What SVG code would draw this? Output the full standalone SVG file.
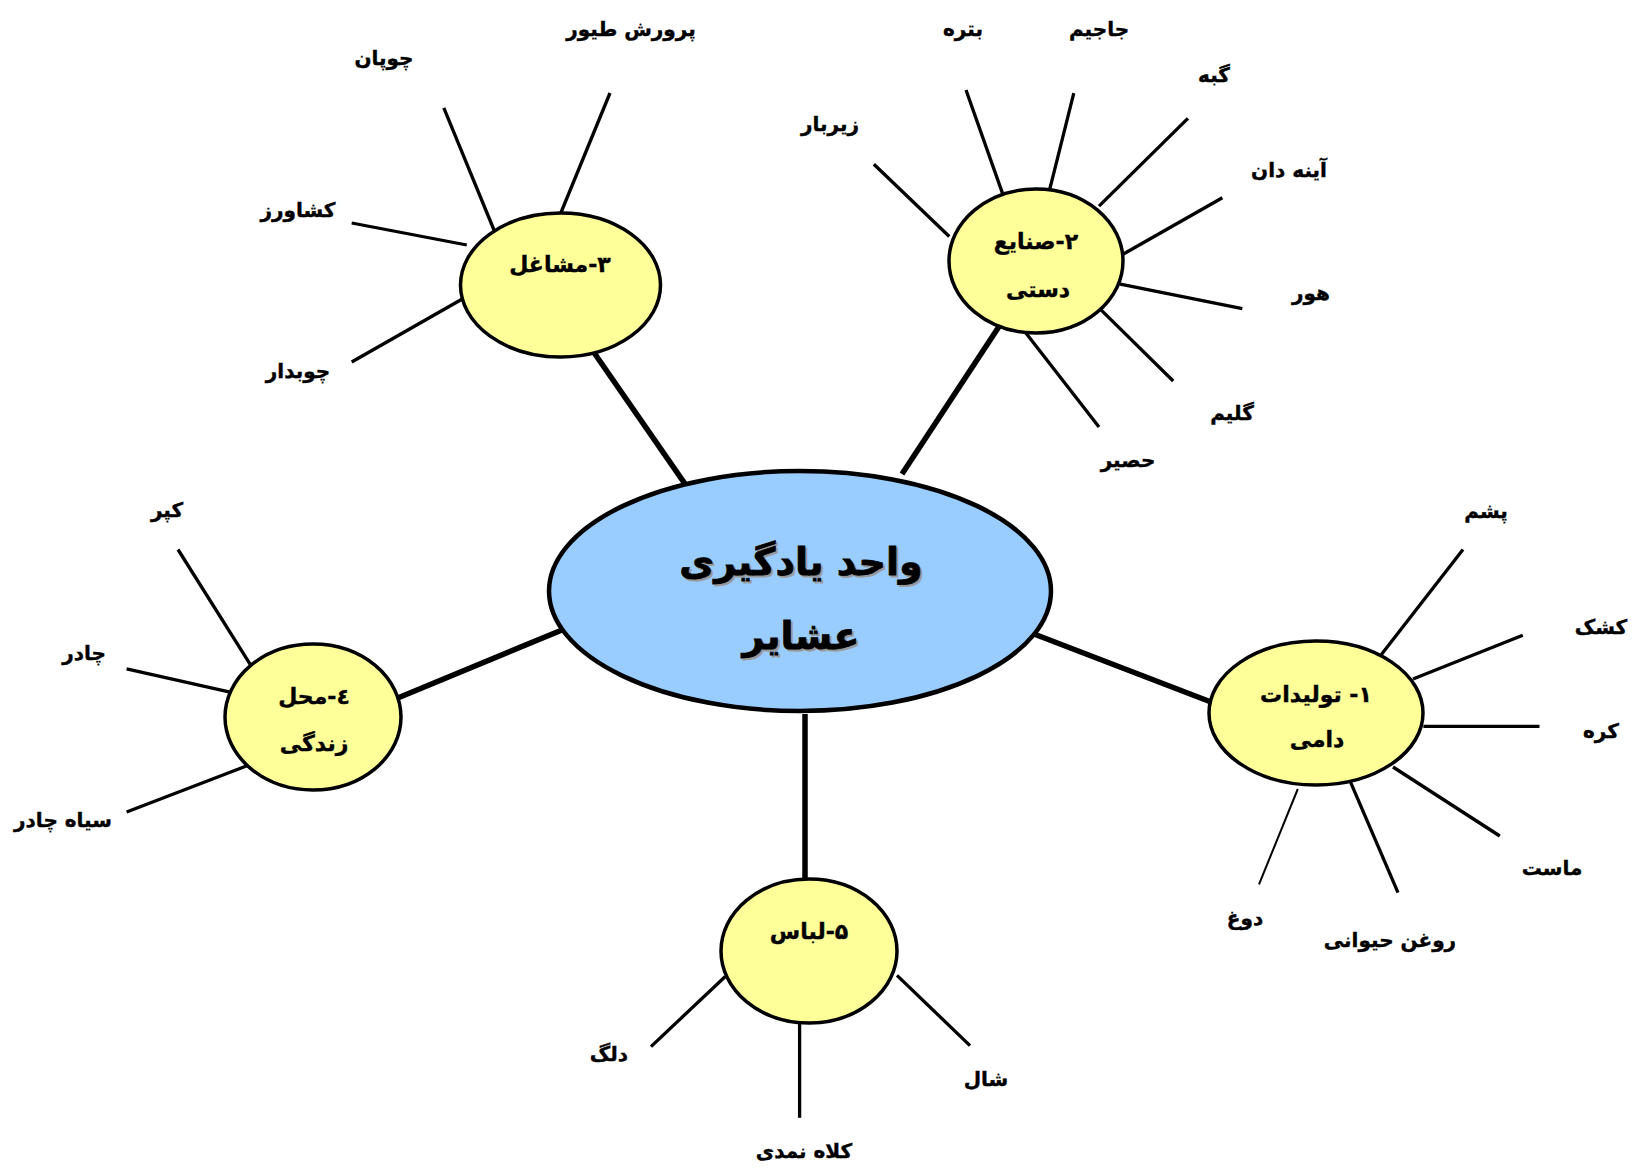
<svg xmlns="http://www.w3.org/2000/svg" width="1641" height="1175" viewBox="0 0 1641 1175">
<style>
.bg{fill:#ffffff}
.main{fill:none;stroke:#000;stroke-width:5.5;stroke-linecap:butt}
.spoke{fill:none;stroke:#000;stroke-width:3.3}
.thin{fill:none;stroke:#000;stroke-width:2}
.sub{fill:#FFFF99;stroke:#000;stroke-width:3.5}
.center{fill:#99CCFF;stroke:#000;stroke-width:4.5}
text{font-family:"DejaVu Sans","Noto Sans",sans-serif;font-weight:bold;direction:rtl;unicode-bidi:embed;text-anchor:middle;fill:#000;stroke:#000;stroke-width:0.4}
.lbl{font-size:20px}
.nt{font-size:22px}
.ct{font-size:38px;stroke-width:0.8}
.sh{fill:#999999;stroke:#999999}
</style>
<rect class="bg" x="0" y="0" width="1641" height="1175"/>
<g id="connectors">
<line class="main" x1="1034" y1="634" x2="1211" y2="702"/>
<line class="main" x1="902" y1="474" x2="1000" y2="325"/>
<line class="main" x1="685.5" y1="484.6" x2="593.4" y2="351.7"/>
<line class="main" x1="562" y1="630" x2="397.7" y2="698"/>
<line class="main" x1="805" y1="714" x2="805" y2="880"/>
<line class="spoke" x1="949.3" y1="236.5" x2="873.9" y2="164.3"/>
<line class="spoke" x1="1002.6" y1="193.6" x2="966" y2="90"/>
<line class="spoke" x1="1049.7" y1="189.4" x2="1073.8" y2="93.1"/>
<line class="spoke" x1="1099" y1="206.2" x2="1187.9" y2="118.3"/>
<line class="spoke" x1="1123" y1="254.3" x2="1222.4" y2="197.8"/>
<line class="spoke" x1="1117.8" y1="283.6" x2="1242.3" y2="308.7"/>
<line class="spoke" x1="1101" y1="309.8" x2="1173.2" y2="381"/>
<line class="spoke" x1="1025.7" y1="332.8" x2="1099" y2="427"/>
<line class="spoke" x1="561" y1="212.5" x2="610" y2="93"/>
<line class="spoke" x1="494" y1="230" x2="443.8" y2="107.8"/>
<line class="spoke" x1="466.8" y1="245" x2="351.7" y2="223"/>
<line class="spoke" x1="463.6" y1="298.3" x2="351.7" y2="362"/>
<line class="spoke" x1="251" y1="665.6" x2="178" y2="549.5"/>
<line class="spoke" x1="229" y1="691.8" x2="126.6" y2="668.8"/>
<line class="spoke" x1="249" y1="765" x2="126.6" y2="812"/>
<line class="spoke" x1="725.3" y1="976.5" x2="651" y2="1046.6"/>
<line class="spoke" x1="799.6" y1="1023.6" x2="799.6" y2="1117.8"/>
<line class="spoke" x1="897" y1="975.4" x2="970" y2="1045.6"/>
<line class="spoke" x1="1381" y1="655" x2="1463" y2="549.5"/>
<line class="spoke" x1="1413" y1="679" x2="1522.8" y2="635.3"/>
<line class="spoke" x1="1423.4" y1="726.3" x2="1539.5" y2="726.3"/>
<line class="spoke" x1="1393" y1="767" x2="1499.8" y2="836"/>
<line class="spoke" x1="1350" y1="780.8" x2="1398" y2="892.7"/>
<line class="thin" x1="1297.8" y1="789" x2="1259" y2="884.4"/>
</g>
<g id="center">
<ellipse class="center" cx="800" cy="591" rx="251" ry="120"/>
<text class="ct sh" x="803" y="577">واحد یادگیری</text>
<text class="ct" x="801" y="575">واحد یادگیری</text>
<text class="ct sh" x="803" y="651">عشایر</text>
<text class="ct" x="801" y="649">عشایر</text>
</g>
<g id="node1">
<ellipse class="sub" cx="1316" cy="713" rx="107" ry="72"/>
<text class="nt" x="1316" y="702">۱- تولیدات</text>
<text class="nt" x="1317" y="747">دامی</text>
</g>
<g id="node2">
<ellipse class="sub" cx="1036" cy="261" rx="87" ry="72"/>
<text class="nt" x="1036" y="249">۲-صنایع</text>
<text class="nt" x="1038" y="297">دستی</text>
</g>
<g id="node3">
<ellipse class="sub" cx="560.5" cy="285" rx="100" ry="72"/>
<text class="nt" x="560" y="272">۳-مشاغل</text>
</g>
<g id="node4">
<ellipse class="sub" cx="313" cy="717" rx="88" ry="73"/>
<text class="nt" x="314" y="704">٤-محل</text>
<text class="nt" x="314" y="751">زندگی</text>
</g>
<g id="node5">
<ellipse class="sub" cx="809" cy="951" rx="88" ry="72"/>
<text class="nt" x="809" y="939">۵-لباس</text>
</g>
<g id="labels">
<text class="lbl" x="830" y="131">زیربار</text>
<text class="lbl" x="963" y="36">بتره</text>
<text class="lbl" x="1099" y="36">جاجیم</text>
<text class="lbl" x="1214" y="82">گبه</text>
<text class="lbl" x="1289" y="177">آینه دان</text>
<text class="lbl" x="1311" y="300">هور</text>
<text class="lbl" x="1232" y="420">گلیم</text>
<text class="lbl" x="1128" y="467">حصیر</text>
<text class="lbl" x="631" y="36">پرورش طیور</text>
<text class="lbl" x="384" y="65">چوپان</text>
<text class="lbl" x="298" y="217">کشاورز</text>
<text class="lbl" x="298" y="378">چوبدار</text>
<text class="lbl" x="167" y="517">کپر</text>
<text class="lbl" x="84" y="660">چادر</text>
<text class="lbl" x="63" y="827">سیاه چادر</text>
<text class="lbl" x="609" y="1061">دلگ</text>
<text class="lbl" x="804" y="1158">کلاه نمدی</text>
<text class="lbl" x="986" y="1086">شال</text>
<text class="lbl" x="1486" y="518">پشم</text>
<text class="lbl" x="1601" y="634">کشک</text>
<text class="lbl" x="1601" y="738">کره</text>
<text class="lbl" x="1552" y="875">ماست</text>
<text class="lbl" x="1390" y="947">روغن حیوانی</text>
<text class="lbl" x="1245" y="925">دوغ</text>
</g>
</svg>
